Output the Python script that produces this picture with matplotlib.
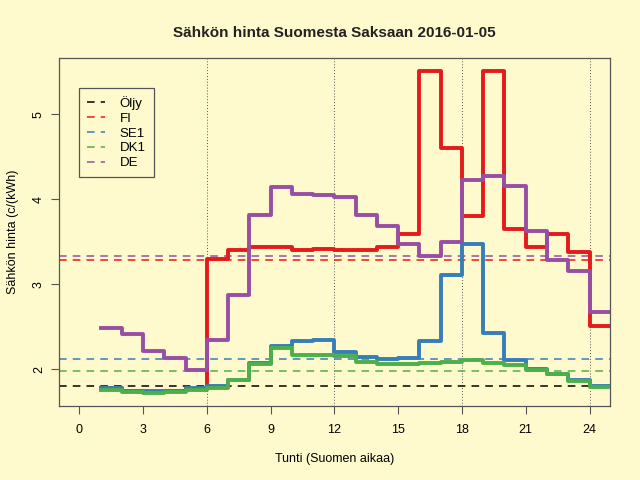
import numpy as np
import matplotlib
matplotlib.use("Agg")
import matplotlib.pyplot as plt

plt.rcParams['font.family'] = ['Liberation Sans', 'DejaVu Sans']

# hourly prices, c/kWh, hour 1..24 (Finnish time)
hours = np.arange(1, 25)
fi = [1.78, 1.75, 1.73, 1.74, 1.77, 3.30, 3.41, 3.44, 3.44, 3.41, 3.42, 3.41,
      3.40, 3.44, 3.59, 5.51, 4.60, 3.81, 5.51, 3.65, 3.44, 3.59, 3.38, 2.51]
se1 = [1.78, 1.75, 1.75, 1.75, 1.78, 1.81, 1.88, 2.07, 2.28, 2.33, 2.34, 2.20,
       2.15, 2.12, 2.13, 2.33, 3.11, 3.48, 2.43, 2.11, 2.00, 1.95, 1.88, 1.81]
dk1 = [1.76, 1.73, 1.72, 1.73, 1.76, 1.78, 1.88, 2.06, 2.25, 2.17, 2.17, 2.16,
       2.09, 2.06, 2.06, 2.07, 2.09, 2.11, 2.07, 2.05, 1.99, 1.94, 1.86, 1.79]
de = [2.49, 2.42, 2.22, 2.13, 1.99, 2.34, 2.88, 3.82, 4.14, 4.06, 4.05, 4.03,
      3.82, 3.69, 3.48, 3.33, 3.50, 4.23, 4.28, 4.16, 3.63, 3.29, 3.16, 2.68]

# daily reference levels
names = ['Öljy', 'FI', 'SE1', 'DK1', 'DE']
levels = [1.80, 3.29, 2.12, 1.98, 3.33]
colors = ['black', '#E41A1C', '#377EB8', '#4DAF4A', '#984EA3']

bg = '#FFFACD'
fig = plt.figure(figsize=(6.4, 4.8), dpi=100, facecolor=bg)
ax = fig.add_axes([0.092, 0.154, 0.861, 0.725], facecolor=bg)

# daily averages as dashed lines
for lev, c, n in zip(levels, colors, names):
    ax.axhline(lev, color=c, lw=1.1, ls=(0, (5, 4)), label=n, zorder=2)

# hourly step curves
xs = np.append(hours, hours[-1] + 1)
for series, c in zip([fi, se1, dk1, de], colors[1:]):
    ys = np.append(series, series[-1])
    ax.step(xs, ys, where='post', color=c, lw=2.8, zorder=3)

for v in (6, 12, 18, 24):
    ax.axvline(v, color='#555555', lw=0.7, ls=(0, (1, 2)), zorder=1)

allv = np.concatenate([fi, se1, dk1, de])
r = allv.max() - allv.min()
ax.set_ylim(allv.min() - 0.04 * r, allv.max() + 0.04 * r)
ax.set_xlim(-0.96, 24.96)
ax.set_xticks(np.arange(0, 25, 3))
ax.set_yticks([2, 3, 4, 5])
ax.tick_params(direction='out', length=6, width=0.8, color='#555555',
               labelsize=9)
ax.tick_params(axis='x', pad=7)
ax.tick_params(axis='y', pad=4)
for lab in ax.get_yticklabels():
    lab.set_rotation(90)
    lab.set_va('center')
for s in ax.spines.values():
    s.set_color('#555555')
    s.set_linewidth(0.9)

ax.set_title('Sähkön hinta Suomesta Saksaan 2016-01-05', fontsize=11,
             fontweight='bold', pad=15, color='#222222')
ax.set_xlabel('Tunti (Suomen aikaa)', fontsize=9, labelpad=12)
ax.set_ylabel('Sähkön hinta (c/(kWh)', fontsize=9, labelpad=10)

leg = ax.legend(loc='upper left', bbox_to_anchor=(0.036, 0.914), fontsize=9.5,
                fancybox=False, edgecolor='#555555', facecolor=bg,
                framealpha=1, handlelength=1.4, handletextpad=1.1,
                borderpad=0.6, labelspacing=0.2, borderaxespad=0)
leg.get_frame().set_linewidth(0.9)

fig.savefig('out.png', dpi=100, facecolor=bg)
